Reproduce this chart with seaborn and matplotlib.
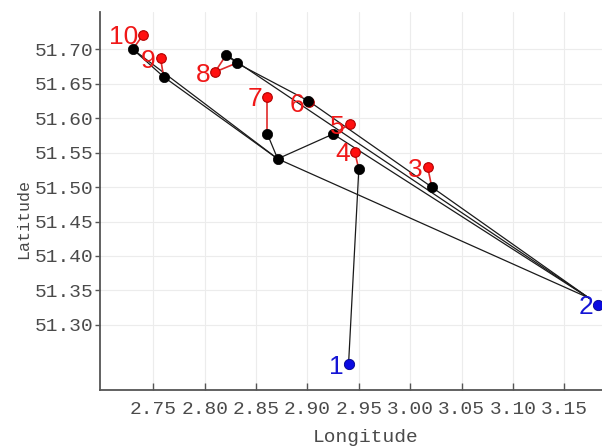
import matplotlib
matplotlib.use('Agg')
import pandas as pd
from matplotlib import pyplot as plt
import seaborn as sns

# route positions (black dots)
node_names = ['H', 'G', 'F', 'E', 'I', 'J', 'C', 'D', 'A', 'B']
node_lon = [2.950, 2.925, 2.871, 2.861, 2.901, 3.021, 2.821, 2.831, 2.730, 2.760]
node_lat = [51.526, 51.577, 51.541, 51.577, 51.625, 51.500, 51.692, 51.680, 51.700, 51.660]

# start / end (blue)
end_names = ['P1', 'P2']
end_line_lon = [2.940, 3.174]
end_line_lat = [51.243, 51.339]
blue_labels = ['1', '2']
blue_lon = [2.940, 3.183]
blue_lat = [51.243, 51.329]

# black connections
edge_from = ['P1', 'A', 'A', 'B', 'F', 'F', 'F', 'C', 'D', 'I', 'J', 'C', 'G']
edge_to = ['H', 'B', 'F', 'F', 'E', 'G', 'P2', 'D', 'I', 'J', 'P2', 'P2', 'P2']

# numbered targets (red) and the route point each one is tied to
red_labels = ['3', '4', '5', '6', '7', '8', '9', '10']
red_lon = [3.017, 2.946, 2.941, 2.9015, 2.861, 2.810, 2.757, 2.740]
red_lat = [51.529, 51.551, 51.591, 51.623, 51.631, 51.667, 51.687, 51.721]
red_link = [['J'], ['H'], ['G'], ['I'], ['E'], ['C', 'D'], ['B'], ['A']]

# positions lookup
pos = {n: (x, y) for n, x, y in zip(node_names, node_lon, node_lat)}
pos.update({n: (x, y) for n, x, y in zip(end_names, end_line_lon, end_line_lat)})

rows = []
for k, (a, b) in enumerate(zip(edge_from, edge_to)):
    for n in (a, b):
        rows.append({'seg': k, 'lon': pos[n][0], 'lat': pos[n][1]})
edges = pd.DataFrame(rows)

rows = []
k = 0
for lab, x, y, links in zip(red_labels, red_lon, red_lat, red_link):
    for n in links:
        rows.append({'seg': k, 'lon': x, 'lat': y})
        rows.append({'seg': k, 'lon': pos[n][0], 'lat': pos[n][1]})
        k += 1
red_lines = pd.DataFrame(rows)

sns.set_style('whitegrid')
plt.rcParams['font.family'] = ['Liberation Mono', 'DejaVu Sans Mono']

fig = plt.figure(figsize=(6.02, 4.48), dpi=100)
ax = fig.add_axes([0.166, 0.1295, 0.884, 0.8445])

sns.lineplot(data=edges, x='lon', y='lat', units='seg', estimator=None, sort=False,
             color='#1a1a1a', linewidth=0.9, ax=ax, zorder=2)
sns.lineplot(data=red_lines, x='lon', y='lat', units='seg', estimator=None, sort=False,
             color='#e02a2a', linewidth=1.2, ax=ax, zorder=2)
sns.scatterplot(x=red_lon, y=red_lat, color='#ff1010', edgecolor='#b00000', linewidth=0.8,
                s=48, ax=ax, zorder=3)
sns.scatterplot(x=node_lon, y=node_lat, color='black', edgecolor='black', linewidth=0.5,
                s=55, ax=ax, zorder=4)
sns.scatterplot(x=blue_lon, y=blue_lat, color='#0a0ae0', edgecolor='#00008a', linewidth=0.6,
                s=55, ax=ax, zorder=4)

for lab, x, y in zip(red_labels, red_lon, red_lat):
    ax.annotate(lab, (x, y), xytext=(-3.5, 0), textcoords='offset points', ha='right',
                va='center_baseline', color='#f01818', fontsize=19, family='Liberation Sans', zorder=5)
for lab, x, y in zip(blue_labels, blue_lon, blue_lat):
    ax.annotate(lab, (x, y), xytext=(-3.5, 0), textcoords='offset points', ha='right',
                va='center_baseline', color='#1515d5', fontsize=19, family='Liberation Sans', zorder=5)

ax.set_xlim(2.698, 3.216)
ax.set_ylim(51.2055, 51.7546)
ax.set_xticks([2.75, 2.80, 2.85, 2.90, 2.95, 3.00, 3.05, 3.10, 3.15])
ax.set_xticklabels(['2.75', '2.80', '2.85', '2.90', '2.95', '3.00', '3.05', '3.10', '3.15'])
ax.set_yticks([51.30, 51.35, 51.40, 51.45, 51.50, 51.55, 51.60, 51.65, 51.70])
ax.set_yticklabels(['51.30', '51.35', '51.40', '51.45', '51.50', '51.55', '51.60', '51.65', '51.70'])

ax.grid(True, color='#ececec', linewidth=0.8)
for s in ['top', 'right']:
    ax.spines[s].set_visible(False)
for s in ['left', 'bottom']:
    ax.spines[s].set_color('#555555')
    ax.spines[s].set_linewidth(1.3)

ax.tick_params(axis='y', left=True, direction='out', length=3.5, width=1, color='#555555',
               pad=1.5, labelsize=14, labelcolor='#4a4a4a')
ax.tick_params(axis='x', bottom=True, direction='in', length=5, width=1, color='#555555',
               pad=8, labelsize=14, labelcolor='#4a4a4a')

ax.set_xlabel('Longitude', fontsize=14, color='#4a4a4a', va='top')
ax.set_ylabel('Latitude', fontsize=12, color='#4a4a4a')
ax.xaxis.set_label_coords(0.5, -0.104)
ax.yaxis.set_label_coords(-0.13, 0.452)

fig.savefig('out.png', dpi=100)
